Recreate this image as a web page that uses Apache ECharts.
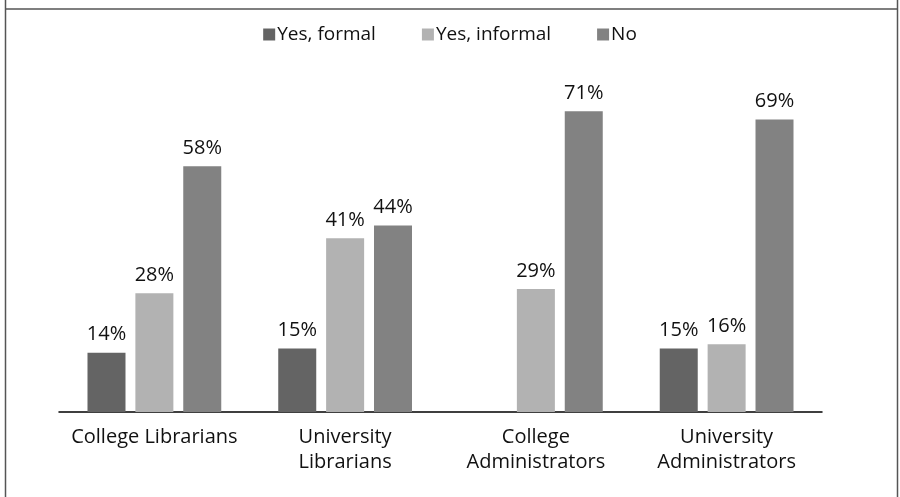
<!DOCTYPE html>
<html>
<head>
<meta charset="utf-8">
<script src="https://cdn.jsdelivr.net/npm/echarts@6/dist/echarts.min.js"></script>
<style>html,body{margin:0;padding:0;background:#fff;}#chart{width:900px;height:497px;}</style>
</head>
<body>
<div id="chart"></div>
<script>
const categories = ['College Librarians', 'University\nLibrarians', 'College\nAdministrators', 'University\nAdministrators'];
const seriesNames = ['Yes, formal', 'Yes, informal', 'No'];
const yesFormal = [14, 15, null, 15];
const yesInformal = [28, 41, 29, 16];
const noValues = [58, 44, 71, 69];
const colors = ['#646464', '#b2b2b2', '#828282'];

const FONT = '"Open Sans", "Noto Sans", sans-serif';
const chart = echarts.init(document.getElementById('chart'));

function mkSeries(name, data, color) {
  return {
    name: name,
    type: 'bar',
    data: data,
    barWidth: 38,
    barGap: '26%',
    itemStyle: { color: color },
    label: {
      show: true,
      position: 'top',
      distance: 8,
      formatter: p => (p.value == null ? '' : p.value + '%'),
      fontFamily: FONT,
      fontSize: 20,
      color: '#111'
    },
    emphasis: { disabled: true }
  };
}

chart.setOption({
  animation: false,
  backgroundColor: '#fff',
  textStyle: { fontFamily: FONT },
  legend: {
    top: 20,
    left: 'center',
    icon: 'rect',
    itemWidth: 12,
    itemHeight: 12,
    itemGap: 46,
    textStyle: { fontFamily: FONT, fontSize: 19, color: '#111', padding: [0, 0, 0, -3] },
    data: seriesNames
  },
  grid: { left: 59, right: 78, top: 73, bottom: 85, containLabel: false },
  xAxis: {
    type: 'category',
    data: categories,
    axisLine: { lineStyle: { color: '#000', width: 1.5 } },
    axisTick: { show: false },
    axisLabel: {
      fontFamily: FONT, fontSize: 20, color: '#111', lineHeight: 25, margin: 13, interval: 0
    }
  },
  yAxis: {
    type: 'value',
    min: 0,
    max: 80,
    show: false,
    splitLine: { show: false }
  },
  series: [
    mkSeries(seriesNames[0], yesFormal, colors[0]),
    mkSeries(seriesNames[1], yesInformal, colors[1]),
    mkSeries(seriesNames[2], noValues, colors[2])
  ],
  graphic: [
    { type: 'line', shape: { x1: 5, y1: 9, x2: 898, y2: 9 }, style: { stroke: '#555', lineWidth: 1.5 } },
    { type: 'line', shape: { x1: 5.5, y1: 0, x2: 5.5, y2: 497 }, style: { stroke: '#555', lineWidth: 1.5 } },
    { type: 'line', shape: { x1: 897.5, y1: 0, x2: 897.5, y2: 497 }, style: { stroke: '#555', lineWidth: 1.5 } }
  ]
});
</script>
</body>
</html>
